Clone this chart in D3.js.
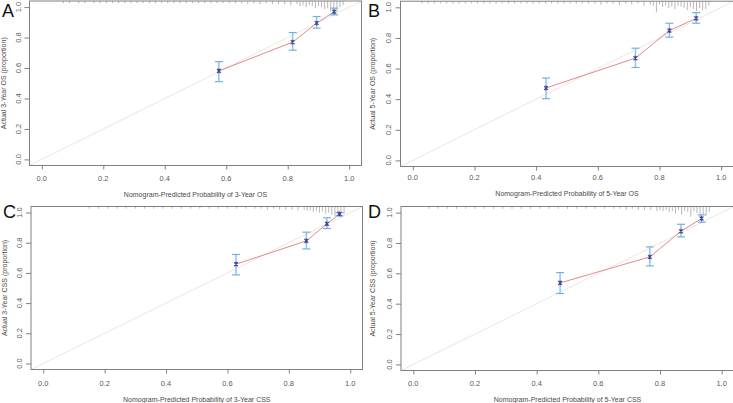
<!DOCTYPE html>
<html><head><meta charset="utf-8">
<script src="https://cdn.jsdelivr.net/npm/d3@7"></script>
<style>
html,body{margin:0;padding:0;background:#fff;}
svg{display:block;font-family:"Liberation Sans",Arial,sans-serif;}
</style></head>
<body><svg id="c" width="733" height="403"></svg>
<script>
// ---------- data ----------
const panelLetters = ["A","B","C","D"];
const xLabels = ["Nomogram-Predicted Probability of 3-Year OS","Nomogram-Predicted Probability of 5-Year OS","Nomogram-Predicted Probability of 3-Year CSS","Nomogram-Predicted Probability of 5-Year CSS"];
const yLabels = ["Actual 3-Year OS (proportion)","Actual 5-Year OS (proportion)","Actual 3-Year CSS (proportion)","Actual 5-Year CSS (proportion)"];
const tickValues = [0,0.2,0.4,0.6,0.8,1.0];

// calibration points: predicted, observed, lower, upper
const predA = [0.576,0.816,0.894,0.951], obsA = [0.581,0.770,0.895,0.969], loA = [0.511,0.717,0.862,0.949], hiA = [0.642,0.833,0.938,0.993];
const predB = [0.432,0.722,0.832,0.919], obsB = [0.473,0.668,0.848,0.928], loB = [0.403,0.607,0.805,0.896], hiB = [0.538,0.733,0.896,0.965];
const predC = [0.628,0.857,0.924,0.965], obsC = [0.658,0.812,0.925,0.991], loC = [0.587,0.759,0.894,0.978], hiC = [0.722,0.870,0.965,1.000];
const predD = [0.476,0.767,0.868,0.935], obsD = [0.537,0.708,0.877,0.961], loD = [0.467,0.649,0.840,0.936], hiD = [0.605,0.774,0.923,0.985];

// spike histogram of predicted probabilities (value, relative count)
const rugAx = [0.07,0.09,0.12,0.14,0.17,0.19,0.21,0.23,0.25,0.27,0.29,0.31,0.33,0.35,0.37,0.39,0.41,0.43,0.45,0.47,0.49,0.51,0.53,0.55,0.57,0.59,0.61,0.63,0.65,0.67,0.69,0.71,0.73,0.75,0.77,0.79,0.81,0.83,0.84,0.85,0.86,0.87,0.88,0.89,0.90,0.91,0.92,0.93,0.94,0.95,0.96,0.97,0.98];
const rugAn = [1,1,1,1,1,1,1,1,1,1,1,1,1,1,1,1,1,1,1,1,1,1,1,1,1,1,1,1,1,2,1,2,1,2,2,2,3,2,4,3,5,3,4,6,4,5,7,6,9,8,10,5,3];
const rugBx = [0.03,0.05,0.07,0.09,0.11,0.13,0.15,0.17,0.19,0.21,0.23,0.25,0.27,0.29,0.31,0.33,0.35,0.37,0.39,0.41,0.43,0.45,0.47,0.49,0.51,0.53,0.55,0.57,0.59,0.61,0.63,0.65,0.67,0.69,0.71,0.73,0.75,0.77,0.78,0.79,0.80,0.81,0.82,0.83,0.84,0.85,0.86,0.87,0.88,0.89,0.90,0.91,0.92,0.93,0.94,0.95,0.96];
const rugBn = [1,1,1,1,1,1,1,1,1,1,1,1,1,1,1,1,1,1,1,1,1,1,1,1,1,1,1,1,1,2,1,1,2,1,2,1,3,2,3,9,2,4,3,5,4,6,3,4,5,7,4,6,8,5,7,6,3];
const rugCx = [0.15,0.18,0.21,0.24,0.27,0.30,0.33,0.36,0.39,0.42,0.45,0.48,0.51,0.54,0.57,0.60,0.63,0.66,0.69,0.71,0.73,0.75,0.77,0.79,0.81,0.83,0.85,0.86,0.87,0.88,0.89,0.90,0.91,0.92,0.93,0.94,0.95,0.96,0.97,0.98];
const rugCn = [1,1,1,1,1,1,1,1,1,1,1,1,1,1,1,1,1,1,1,1,2,1,2,2,2,3,2,3,3,4,3,5,4,6,5,7,8,9,10,6];
const rugDx = [0.05,0.08,0.11,0.14,0.17,0.20,0.23,0.26,0.29,0.32,0.35,0.38,0.41,0.44,0.47,0.50,0.53,0.56,0.59,0.62,0.65,0.67,0.69,0.71,0.73,0.75,0.77,0.79,0.80,0.81,0.82,0.83,0.84,0.85,0.86,0.87,0.88,0.89,0.90,0.91,0.92,0.93,0.94,0.95,0.96];
const rugDn = [1,1,1,1,1,1,1,1,1,1,1,1,1,1,1,1,1,1,1,1,1,1,2,1,2,2,2,3,2,3,2,4,3,5,2,6,3,4,8,3,5,9,6,7,4];

// ---------- layout ----------
const panels = [
  {box:{l:29.5,r:361.5,t:1,b:165.5},   pred:predA,obs:obsA,lo:loA,hi:hiA,rx:rugAx,rn:rugAn, letter:[2,17], ytx:18.5, ylx:4,  xty:178,   xly:194.5},
  {box:{l:400.5,r:733.5,t:1.2,b:166.5},pred:predB,obs:obsB,lo:loB,hi:hiB,rx:rugBx,rn:rugBn, letter:[368,17], ytx:388.5, ylx:373, xty:177, xly:193.5},
  {box:{l:31,r:362.5,t:206.5,b:369.5}, pred:predC,obs:obsC,lo:loC,hi:hiC,rx:rugCx,rn:rugCn, letter:[3,218], ytx:19.5, ylx:4.5, xty:383, xly:400},
  {box:{l:401,r:734,t:206.5,b:370.5},  pred:predD,obs:obsD,lo:loD,hi:hiD,rx:rugDx,rn:rugDn, letter:[368,218], ytx:389, ylx:372.5, xty:383.5, xly:400}
];

const svg = d3.select("#c");
const gray = "#808080";

panels.forEach((p,i)=>{
  const b = p.box;
  const x = d3.scaleLinear().domain([-0.04,1.04]).range([b.l,b.r]);
  const y = d3.scaleLinear().domain([-0.04,1.04]).range([b.b,b.t]);
  const g = svg.append("g");

  // diagonal reference
  g.append("line").attr("x1",x(-0.04)).attr("y1",y(-0.04)).attr("x2",x(1.04)).attr("y2",y(1.04))
    .attr("stroke","#f1e4e4").attr("stroke-width",1);

  // spike histogram
  const maxN = d3.max(p.rn);
  const h = d3.scaleLinear().domain([0,maxN]).range([0,10]);
  g.selectAll("line.rug").data(p.rx).join("line").attr("class","rug")
    .attr("x1",d=>x(d)).attr("x2",d=>x(d))
    .attr("y1",b.t).attr("y2",(d,j)=>b.t+1.2+h(p.rn[j]))
    .attr("stroke","#999").attr("stroke-width",0.7);

  // box
  g.append("rect").attr("x",b.l).attr("y",b.t).attr("width",b.r-b.l).attr("height",b.b-b.t)
    .attr("fill","none").attr("stroke",gray).attr("stroke-width",1);

  // axes
  const xa = d3.axisBottom(x).tickValues(tickValues).tickSize(4);
  const ya = d3.axisLeft(y).tickValues(tickValues).tickSize(5);
  const gx = g.append("g").attr("transform",`translate(0,${b.b})`).call(xa);
  gx.select(".domain").remove();
  gx.selectAll("line").attr("stroke",gray);
  gx.selectAll("text").remove();
  g.selectAll("text.xt").data(tickValues).join("text").attr("class","xt")
    .attr("x",d=>x(d)).attr("y",p.xty).attr("dy","0.35em").attr("text-anchor","middle")
    .attr("font-size",7.5).attr("fill","#5a5a5a").text(d3.format(".1f"));
  const gy = g.append("g").attr("transform",`translate(${b.l},0)`).call(ya);
  gy.select(".domain").remove();
  gy.selectAll("line").attr("stroke",gray);
  gy.selectAll("text").remove();
  g.selectAll("text.yt").data(tickValues).join("text").attr("class","yt")
    .attr("transform",d=>`translate(${p.ytx},${y(d)}) rotate(-90)`).attr("dy","0.35em")
    .attr("text-anchor","middle").attr("font-size",7.5).attr("fill","#5a5a5a").text(d3.format(".1f"));

  // axis titles
  g.append("text").attr("x",x(0.5)).attr("y",p.xly).attr("dy","0.35em").attr("text-anchor","middle")
    .attr("font-size",7).attr("fill","#4a4a4a").text(xLabels[i]);
  g.append("text").attr("transform",`translate(${p.ylx},${y(0.5)}) rotate(-90)`).attr("dy","0.35em")
    .attr("text-anchor","middle").attr("font-size",7).attr("fill","#4a4a4a").text(yLabels[i]);

  // calibration line
  const pts = p.pred.map((v,j)=>[v,p.obs[j]]);
  g.append("path").datum(pts).attr("fill","none").attr("stroke","#d9807a").attr("stroke-width",0.9)
    .attr("d",d3.line().x(d=>x(d[0])).y(d=>y(d[1])));

  // error bars
  const eb = g.selectAll("g.eb").data(p.pred).join("g").attr("class","eb");
  eb.append("line").attr("x1",d=>x(d)).attr("x2",d=>x(d)).attr("y1",(d,j)=>y(p.lo[j])).attr("y2",(d,j)=>y(p.hi[j]))
    .attr("stroke","#8cc6ea").attr("stroke-width",1.5);
  eb.append("line").attr("x1",d=>x(d)-4).attr("x2",d=>x(d)+4).attr("y1",(d,j)=>y(p.lo[j])).attr("y2",(d,j)=>y(p.lo[j]))
    .attr("stroke","#72b2dc").attr("stroke-width",1.2);
  eb.append("line").attr("x1",d=>x(d)-4).attr("x2",d=>x(d)+4).attr("y1",(d,j)=>y(p.hi[j])).attr("y2",(d,j)=>y(p.hi[j]))
    .attr("stroke","#72b2dc").attr("stroke-width",1.2);

  // point markers
  const s = 1.9;
  const mk = g.selectAll("g.mk").data(pts).join("g").attr("class","mk")
    .attr("transform",d=>`translate(${x(d[0])},${y(d[1])})`);
  mk.append("path").attr("d",`M${-s},${-s}L${s},${s}M${-s},${s}L${s},${-s}M0,${-s-0.5}L0,${s+0.5}`)
    .attr("stroke","#44409e").attr("stroke-width",1.1).attr("fill","none");

  // panel letter
  svg.append("text").attr("x",p.letter[0]).attr("y",p.letter[1]).attr("font-size",18)
    .attr("fill","#111").text(panelLetters[i]);
});
</script></body></html>
